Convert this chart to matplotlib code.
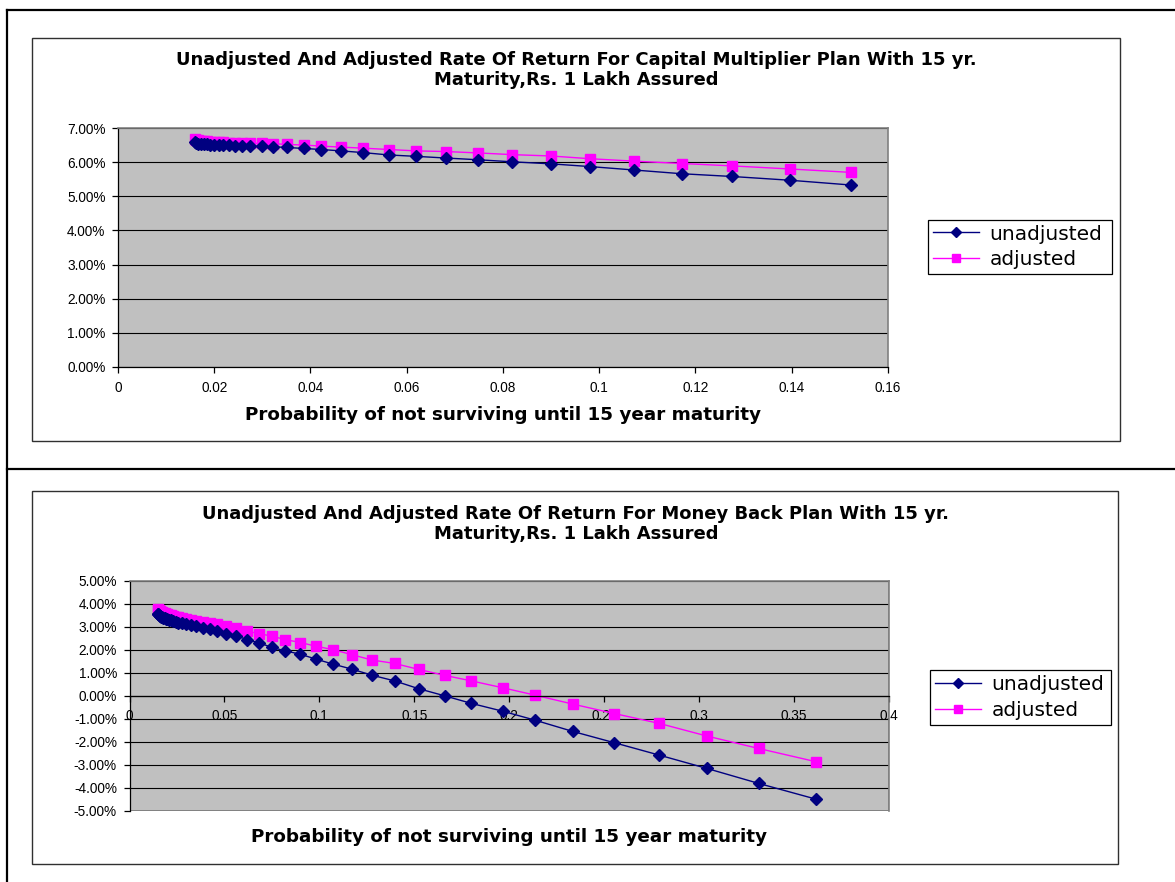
import matplotlib
matplotlib.use("Agg")
import matplotlib.pyplot as plt
from matplotlib.patches import Rectangle
from matplotlib.lines import Line2D
from matplotlib.ticker import FuncFormatter, MultipleLocator

plt.rcParams['font.family'] = ['Liberation Sans', 'DejaVu Sans']

# ---- data: capital multiplier plan (top) ----
cm_prob = [0.0160, 0.0163, 0.0167, 0.0172, 0.0178, 0.0185, 0.0192, 0.0200, 0.0209,
           0.0219, 0.0230, 0.0243, 0.0258, 0.0274, 0.0299, 0.0322, 0.0351, 0.0387,
           0.0422, 0.0463, 0.0509, 0.0563, 0.0619, 0.0682, 0.0748, 0.0819, 0.0900,
           0.0981, 0.1072, 0.1172, 0.1276, 0.1396, 0.1523]
cm_unadj = [6.60, 6.56, 6.54, 6.53, 6.52, 6.52, 6.51, 6.51, 6.50, 6.50, 6.49, 6.48,
            6.47, 6.47, 6.46, 6.45, 6.43, 6.40, 6.37, 6.33, 6.28, 6.21, 6.17, 6.12,
            6.07, 6.01, 5.95, 5.87, 5.77, 5.66, 5.58, 5.47, 5.33]
cm_adj = [6.68, 6.66, 6.64, 6.63, 6.62, 6.61, 6.60, 6.60, 6.59, 6.58, 6.57, 6.57,
          6.56, 6.55, 6.55, 6.54, 6.52, 6.50, 6.47, 6.44, 6.41, 6.37, 6.33, 6.31,
          6.27, 6.22, 6.18, 6.10, 6.03, 5.96, 5.89, 5.80, 5.70]

# ---- data: money back plan (bottom) ----
mb_prob = [0.0148, 0.0152, 0.0156, 0.0160, 0.0163, 0.0167, 0.0172, 0.0178, 0.0185,
           0.0192, 0.0200, 0.0209, 0.0219, 0.0230, 0.0243, 0.0258, 0.0274, 0.0299,
           0.0322, 0.0351, 0.0387, 0.0422, 0.0463, 0.0509, 0.0563, 0.0619, 0.0682,
           0.0748, 0.0819, 0.0900, 0.0981, 0.1072, 0.1172, 0.1276, 0.1396, 0.1523,
           0.1660, 0.1801, 0.1966, 0.2136, 0.2335, 0.2553, 0.2790, 0.3041, 0.3313,
           0.3617]
mb_unadj = [3.57, 3.53, 3.50, 3.47, 3.45, 3.43, 3.41, 3.39, 3.37, 3.35, 3.32, 3.30,
            3.27, 3.24, 3.21, 3.17, 3.14, 3.10, 3.06, 3.02, 2.96, 2.90, 2.82, 2.70,
            2.60, 2.44, 2.30, 2.10, 1.95, 1.80, 1.59, 1.37, 1.15, 0.89, 0.64, 0.30,
            -0.01, -0.34, -0.68, -1.07, -1.56, -2.05, -2.59, -3.17, -3.82, -4.51]
mb_adj = [3.77, 3.74, 3.71, 3.68, 3.66, 3.64, 3.62, 3.60, 3.58, 3.56, 3.54, 3.51,
          3.49, 3.46, 3.43, 3.40, 3.37, 3.33, 3.30, 3.25, 3.20, 3.15, 3.10, 3.03,
          2.92, 2.80, 2.70, 2.59, 2.44, 2.31, 2.15, 2.00, 1.78, 1.55, 1.40, 1.14,
          0.88, 0.64, 0.34, 0.02, -0.37, -0.78, -1.21, -1.76, -2.30, -2.88]

series_names = ["unadjusted", "adjusted"]
titles = ["Unadjusted And Adjusted Rate Of Return For Capital Multiplier Plan With 15 yr.\nMaturity,Rs. 1 Lakh Assured",
          "Unadjusted And Adjusted Rate Of Return For Money Back Plan With 15 yr.\nMaturity,Rs. 1 Lakh Assured"]
xlabel = "Probability of not surviving until 15 year maturity"

W, H = 1175, 882
fig = plt.figure(figsize=(W / 100, H / 100), dpi=100)
fig.patch.set_facecolor('white')

def fx(x):
    return x / W

def fy(y):
    return 1 - y / H

# outer table lines
fig.add_artist(Line2D([fx(7), 1], [fy(10), fy(10)], color='black', lw=1.6))
fig.add_artist(Line2D([fx(7), fx(7)], [fy(10), 0], color='black', lw=1.6))
fig.add_artist(Line2D([fx(7), 1], [fy(468.5), fy(468.5)], color='black', lw=1.6))

# chart boxes
fig.add_artist(Rectangle((fx(32), fy(441)), fx(1120 - 32), (441 - 38) / H,
                         fill=False, ec='#303030', lw=1.0))
fig.add_artist(Rectangle((fx(32), fy(864)), fx(1118 - 32), (864 - 491) / H,
                         fill=False, ec='#303030', lw=1.0))

pct = FuncFormatter(lambda v, p: "%.2f%%" % v)
xfmt = FuncFormatter(lambda v, p: "%g" % round(v, 3))

wide = ['DejaVu Sans']


def style(ax):
    ax.set_facecolor('#C0C0C0')
    ax.grid(axis='y', color='black', lw=0.8)
    ax.set_axisbelow(True)
    for s in ['top', 'right']:
        ax.spines[s].set_color('#808080')
        ax.spines[s].set_linewidth(1.2)
    for s in ['left', 'bottom']:
        ax.spines[s].set_color('black')
        ax.spines[s].set_linewidth(0.9)
    ax.yaxis.set_major_formatter(pct)
    ax.xaxis.set_major_formatter(xfmt)
    ax.tick_params(direction='out', length=4, width=0.9, labelsize=9.8, pad=5)


def draw(ax, xs, ua, ad):
    ax.plot(xs, ua, color='#000080', lw=1.0, marker='D', ms=6.5, mfc='#000080',
            mec='#000080', label=series_names[0], zorder=3)
    ax.plot(xs, ad, color='#FF00FF', lw=1.0, marker='s', ms=7, mfc='#FF00FF',
            mec='#FF00FF', label=series_names[1], zorder=2)


# ---- top chart ----
ax1 = fig.add_axes([fx(118), fy(367), fx(888 - 118), (367 - 128) / H])
draw(ax1, cm_prob, cm_unadj, cm_adj)
ax1.set_xlim(0, 0.16)
ax1.set_ylim(0, 7)
ax1.xaxis.set_major_locator(MultipleLocator(0.02))
ax1.yaxis.set_major_locator(MultipleLocator(1))
style(ax1)
ax1.tick_params(axis='x', pad=6)

# ---- bottom chart ----
ax2 = fig.add_axes([fx(129.5), fy(810.5), fx(889 - 129.5), (810.5 - 580.7) / H])
draw(ax2, mb_prob, mb_unadj, mb_adj)
ax2.set_xlim(0, 0.4)
ax2.set_ylim(-5, 5)
ax2.xaxis.set_major_locator(MultipleLocator(0.05))
ax2.yaxis.set_major_locator(MultipleLocator(1))
style(ax2)
ax2.spines['bottom'].set_position(('data', 0))
ax2.add_patch(Rectangle((0, 0), 1, 1, transform=ax2.transAxes, fill=False,
                        ec='#808080', lw=1.2, zorder=0.5))
ax2.tick_params(axis='x', pad=6)
for t in ax2.get_xticklabels():
    t.set_zorder(5)

# titles and axis labels
fig.text(fx(576), fy(70), titles[0], ha='center', va='center', fontsize=13,
         fontweight='bold', linespacing=1.12, family=wide)
fig.text(fx(576), fy(524), titles[1], ha='center', va='center', fontsize=13,
         fontweight='bold', linespacing=1.12, family=wide)
fig.text(fx(503), fy(415), xlabel, ha='center', va='center', fontsize=13.2,
         fontweight='bold', family=wide)
fig.text(fx(509), fy(837), xlabel, ha='center', va='center', fontsize=13.2,
         fontweight='bold', family=wide)

# legends
for ax, (x0, y0, x1, y1) in [(ax1, (928, 219.5, 1112, 274.5)), (ax2, (930, 670, 1111, 722))]:
    leg = ax.legend(loc='upper left',
                    bbox_to_anchor=(fx(x0), fy(y1), fx(x1 - x0), (y1 - y0) / H),
                    bbox_transform=fig.transFigure, mode='expand',
                    frameon=True, fancybox=False, framealpha=1, edgecolor='black',
                    prop={'family': wide, 'size': 14.5}, handlelength=2.3,
                    handletextpad=0.5, borderpad=0.25, labelspacing=0.33,
                    borderaxespad=0, markerscale=0.75)
    leg.get_frame().set_linewidth(0.9)

fig.savefig('out.png', dpi=100)
